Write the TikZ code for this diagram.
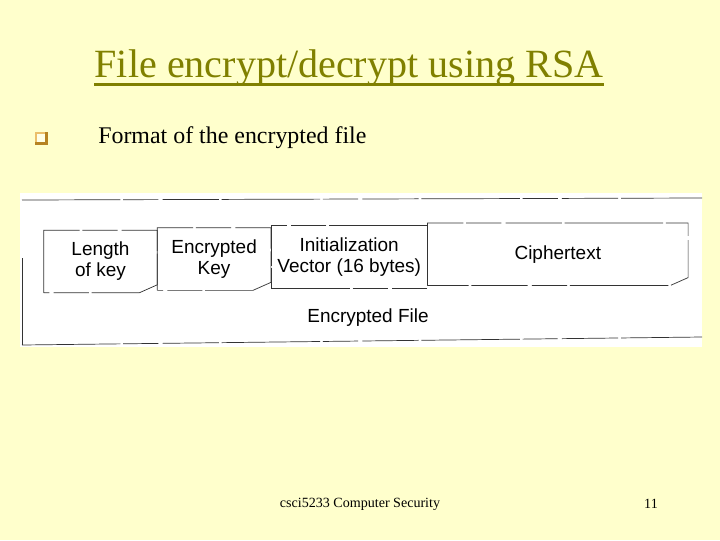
\documentclass[tikz,border=0pt]{standalone}
\usepackage{fontspec}
\setmainfont{Liberation Serif}
\newfontfamily\scanfont{Liberation Sans}
\usetikzlibrary{positioning, calc}
\definecolor{slidebg}{HTML}{FFFFCC}
\definecolor{titleolive}{HTML}{808000}
\definecolor{bulletgold}{HTML}{E3A42A}

\begin{document}
\begin{tikzpicture}[x=0.025cm, y=-0.025cm, node distance=0pt,
    field/.style={minimum height=1.55cm, inner sep=0pt, align=center,
      font=\scanfont\fontsize{13.5}{15}\selectfont},
    scanline/.style={draw=black!80, line width=0.5pt},
    rough/.style={scanline, dash pattern=on 70pt off 2pt on 25pt off 3pt on 40pt off 2pt}]
   % slide
   \fill[slidebg] (0,0) rectangle (720,540);
   \useasboundingbox (0,0) rectangle (720,540);
   \node[text=titleolive, inner sep=0pt, font=\fontsize{28.5}{32}\selectfont] (title) at (349,68) {File encrypt/decrypt using RSA};
   \path (title.base west) ++(0,7) coordinate (ulw)
      (title.base east) ++(0,7) coordinate (ule);
   \draw[titleolive, line width=2.2pt] (ulw) -- (ule);
   \node[draw=bulletgold!70, fill=white!50!slidebg, line width=0.8pt, minimum size=0.25cm, inner sep=0pt] (bullet) at (41,138) {};
   \draw[bulletgold!80!black, line width=1.6pt] (bullet.south west) -- (bullet.south east) -- (bullet.north east);
   \node[anchor=west, font=\fontsize{17}{20}\selectfont, inner sep=0pt] (point) at (98,138) {Format of the encrypted file};

   % scanned figure
   \fill[white] (20,193) rectangle (702,347);
   \draw[rough] (22,200) -- (702,198);
   \draw[rough] (22,345) -- (702,337);
   \draw[scanline] (22,258) -- (22,345);

   \node[field, minimum width=2.825cm] (lenkey) at (100.5,261.5) {Length\\of key};
   \node[field, minimum width=2.825cm, yshift=0.06cm] (enckey) [right=of lenkey] {Encrypted\\Key};
   \node[field, minimum width=3.9cm, yshift=0.06cm] (iv) [right=of enckey] {Initialization\\Vector (16 bytes)};
   \node[field, minimum width=6.5cm, yshift=0.06cm] (cipher) [right=of iv] {Ciphertext};
   \node[font=\scanfont\fontsize{13.5}{15}\selectfont, inner sep=0pt] (file) at (368,318) {Encrypted File};

   \foreach \b in {lenkey,enckey,cipher}
     \draw[rough] (\b.south west) -- (\b.north west) -- (\b.north east)
        -- ($(\b.south east)+(0,-8)$) -- ($(\b.south east)+(-18,0)$) -- cycle;
   \draw[rough] (iv.north east) -- (iv.north west) -- (iv.south west) -- (iv.south east);

   % footer
   \node[font=\fontsize{10}{12}\selectfont] (footer) at (360,504) {csci5233 Computer Security};
   \node[font=\fontsize{10}{12}\selectfont] (page) at (651,504) {11};
\end{tikzpicture}
\end{document}
